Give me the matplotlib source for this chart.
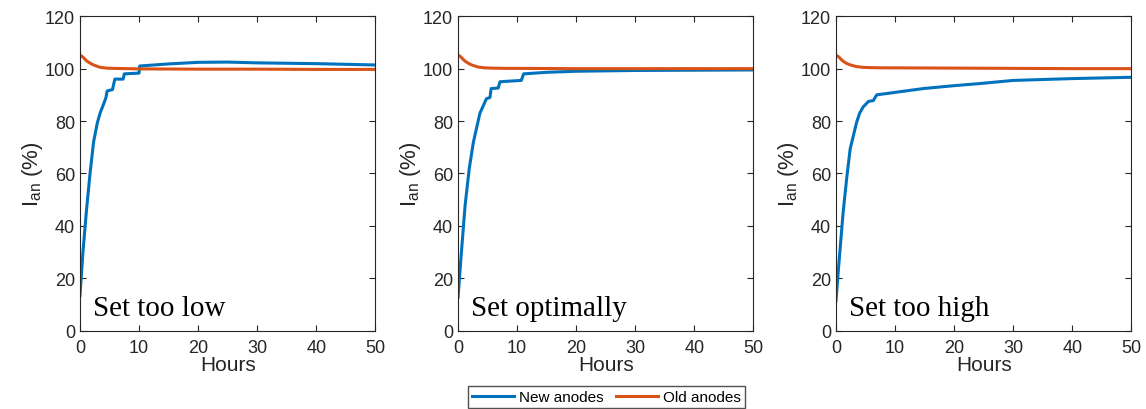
import numpy as np
from matplotlib import pyplot as plt

plt.rcParams['font.family'] = ['Liberation Sans', 'DejaVu Sans']

# anode current in % of nominal, three set-point cases
t_new_low = [0, 0.5, 1.1, 1.7, 2.3, 2.9, 3.4, 4.0, 4.4, 4.6, 5.5, 5.9, 7.3, 7.5, 10.0, 10.1, 15, 20, 25, 30, 40, 50]
i_new_low = [13.4, 30, 46, 60, 72, 79, 83, 86.5, 89, 91.5, 92, 96, 96, 98, 98.3, 101, 101.8, 102.4, 102.5, 102.2, 101.9, 101.4]

t_new_opt = [0, 0.5, 1.2, 1.9, 2.6, 3.2, 3.7, 4.3, 4.8, 5.4, 5.6, 6.8, 7.1, 10.7, 11.1, 15, 20, 30, 40, 50]
i_new_opt = [12.7, 28, 48, 62, 72, 78, 83, 86, 88.5, 89, 92.4, 92.6, 95, 95.5, 98, 98.6, 99, 99.3, 99.4, 99.5]

t_new_high = [0, 0.5, 1.2, 1.8, 2.4, 3.0, 3.5, 4.0, 4.6, 5.5, 6.3, 6.9, 10.2, 14.8, 20, 24.3, 30, 40, 50]
i_new_high = [11.5, 26, 45, 58, 69.4, 75, 79.6, 83, 85.4, 87.5, 87.8, 90, 91, 92.4, 93.5, 94.3, 95.5, 96.2, 96.7]

t_old = [0, 0.5, 1.1, 1.7, 2.3, 3.4, 4.5, 5.6, 8, 10, 20, 30, 40, 50]
i_old_low = [105.2, 104.4, 103, 102.1, 101.4, 100.5, 100.2, 100.1, 100, 99.9, 99.8, 99.8, 99.7, 99.7]
i_old_opt = [105.2, 104.4, 103, 102.1, 101.4, 100.6, 100.3, 100.2, 100.1, 100.1, 100, 100, 100, 100]
i_old_high = [105.2, 104.4, 103, 102.1, 101.5, 100.8, 100.5, 100.4, 100.3, 100.3, 100.2, 100.1, 100, 100]

titles = ['Set too low', 'Set optimally', 'Set too high']
new_t = [t_new_low, t_new_opt, t_new_high]
new_i = [i_new_low, i_new_opt, i_new_high]
old_i = [i_old_low, i_old_opt, i_old_high]

blue = '#0072BD'
orange = '#D95319'
grey = '#262626'

fig = plt.figure(figsize=(11.46, 4.10), dpi=100)
lefts = [0.0698, 0.3997, 0.7295]

for k in range(3):
    ax = fig.add_axes([lefts[k], 0.191, 0.2578, 0.767])
    l1, = ax.plot(new_t[k], new_i[k], color=blue, linewidth=2.2, label='New anodes')
    l2, = ax.plot(t_old, old_i[k], color=orange, linewidth=2.2, label='Old anodes')
    ax.set_xlim(0, 50)
    ax.set_ylim(0, 120)
    ax.set_xticks([0, 10, 20, 30, 40, 50])
    ax.set_yticks([0, 20, 40, 60, 80, 100, 120])
    ax.tick_params(direction='in', top=True, right=True, labelsize=13,
                   colors=grey, length=4, width=0.8)
    ax.tick_params(axis='x', pad=6)
    for s in ax.spines.values():
        s.set_color(grey)
        s.set_linewidth(0.8)
    ax.set_xlabel('Hours', fontsize=15, color=grey, labelpad=-1)
    ax.set_ylabel(r'$\mathregular{I_{an}}$ (%)', fontsize=16, color=grey, labelpad=0)
    ax.text(0.045, 0.03, titles[k], transform=ax.transAxes, fontsize=21,
            family='Liberation Serif', color='black', va='bottom')

fig.legend(handles=[l1, l2], loc='center', bbox_to_anchor=(0.529, 0.029), ncol=2,
           fontsize=11, frameon=True, fancybox=False, edgecolor=grey,
           handlelength=2.8, handletextpad=0.3, columnspacing=0.8,
           borderpad=0.25, borderaxespad=0)

fig.savefig('out.png', dpi=100)
